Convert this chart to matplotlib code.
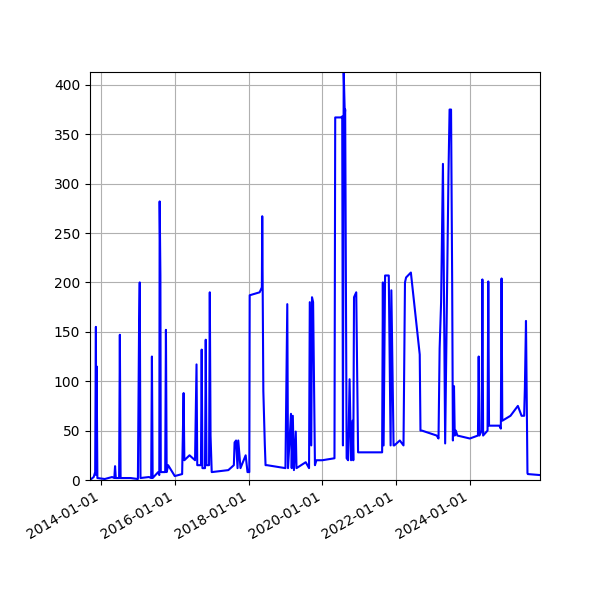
import matplotlib
matplotlib.use("Agg")
import matplotlib.pyplot as plt
import matplotlib.dates as mdates
import numpy as np
import pandas as pd

# decimal years and values
years = [2013.70, 2013.80, 2013.84, 2013.86, 2013.87, 2013.88, 2013.90, 2014.10, 2014.30, 2014.36,
         2014.38, 2014.40, 2014.49, 2014.51, 2014.53, 2014.80, 2015.00, 2015.03, 2015.05, 2015.07,
         2015.30, 2015.36, 2015.38, 2015.40, 2015.55, 2015.58, 2015.59, 2015.61, 2015.62, 2015.74,
         2015.76, 2015.78, 2015.82, 2016.00, 2016.20, 2016.24, 2016.26, 2016.40, 2016.55, 2016.59,
         2016.61, 2016.71, 2016.73, 2016.75, 2016.82, 2016.84, 2016.86, 2016.93, 2016.95, 2016.97,
         2017.00, 2017.45, 2017.60, 2017.62, 2017.66, 2017.70, 2017.72, 2017.78, 2017.92, 2017.97,
         2018.02, 2018.03, 2018.30, 2018.36, 2018.37, 2018.38, 2018.40, 2018.44, 2018.46, 2018.50,
         2019.00, 2019.05, 2019.07, 2019.15, 2019.17, 2019.20, 2019.23, 2019.28, 2019.30, 2019.55,
         2019.64, 2019.66, 2019.70, 2019.72, 2019.75, 2019.80, 2019.84, 2020.00, 2020.33, 2020.35,
         2020.50, 2020.54, 2020.56, 2020.58, 2020.61, 2020.62, 2020.66, 2020.70, 2020.74, 2020.78,
         2020.82, 2020.84, 2020.86, 2020.92, 2020.97, 2021.00, 2021.40, 2021.62, 2021.64, 2021.66,
         2021.70, 2021.80, 2021.85, 2021.87, 2021.93, 2021.95, 2022.10, 2022.20, 2022.24, 2022.27,
         2022.40, 2022.64, 2022.66, 2022.70, 2023.10, 2023.15, 2023.18, 2023.22, 2023.27, 2023.30,
         2023.33, 2023.42, 2023.45, 2023.49, 2023.52, 2023.54, 2023.57, 2023.59, 2023.62, 2023.66,
         2024.00, 2024.22, 2024.24, 2024.26, 2024.32, 2024.34, 2024.36, 2024.48, 2024.50, 2024.52,
         2024.80, 2024.84, 2024.86, 2024.88, 2025.10, 2025.30, 2025.40, 2025.47, 2025.49, 2025.52,
         2025.54, 2025.56, 2025.57, 2025.90]
values = [0, 3, 8, 155, 5, 115, 2, 1, 3, 2,
          14, 2, 2, 147, 2, 2, 1, 148, 200, 2,
          3, 2, 125, 2, 8, 5, 282, 207, 8, 8,
          152, 8, 15, 4, 6, 88, 20, 25, 20, 117,
          15, 15, 132, 12, 12, 142, 15, 15, 190, 45,
          8, 10, 15, 38, 40, 12, 40, 12, 25, 8,
          8, 187, 190, 195, 267, 205, 90, 36, 15, 15,
          12, 178, 12, 67, 12, 65, 10, 49, 12, 18,
          12, 180, 35, 185, 180, 15, 20, 20, 22, 367,
          367, 368, 35, 413, 370, 375, 22, 20, 102, 20,
          60, 20, 185, 190, 28, 28, 28, 28, 200, 35,
          207, 207, 35, 192, 35, 35, 40, 35, 200, 205,
          210, 127, 50, 50, 45, 42, 133, 180, 320, 180,
          37, 310, 375, 375, 202, 40, 95, 45, 50, 45,
          42, 45, 125, 45, 50, 203, 45, 50, 201, 55,
          55, 52, 204, 60, 65, 75, 65, 65, 93, 161,
          88, 7, 6, 5]


def to_datetime(y):
    yr = int(np.floor(y))
    start = pd.Timestamp(year=yr, month=1, day=1)
    return start + pd.Timedelta(days=(y - yr) * 365.25)


dates = [to_datetime(y) for y in years]

fig = plt.figure(figsize=(6, 6), dpi=100)
ax = fig.add_axes([0.15, 0.2, 0.75, 0.68])
ax.plot(dates, values, color="blue", linewidth=1.5)
ax.set_ylim(0, 413)
ax.set_xlim(to_datetime(2013.70), to_datetime(2025.90))
ax.xaxis.set_major_locator(mdates.YearLocator(2))
ax.xaxis.set_major_formatter(mdates.DateFormatter("%Y-%m-%d"))
ax.grid(True)
for lbl in ax.get_xticklabels():
    lbl.set_rotation(30)
    lbl.set_ha("right")

fig.savefig("out.png", dpi=100)
